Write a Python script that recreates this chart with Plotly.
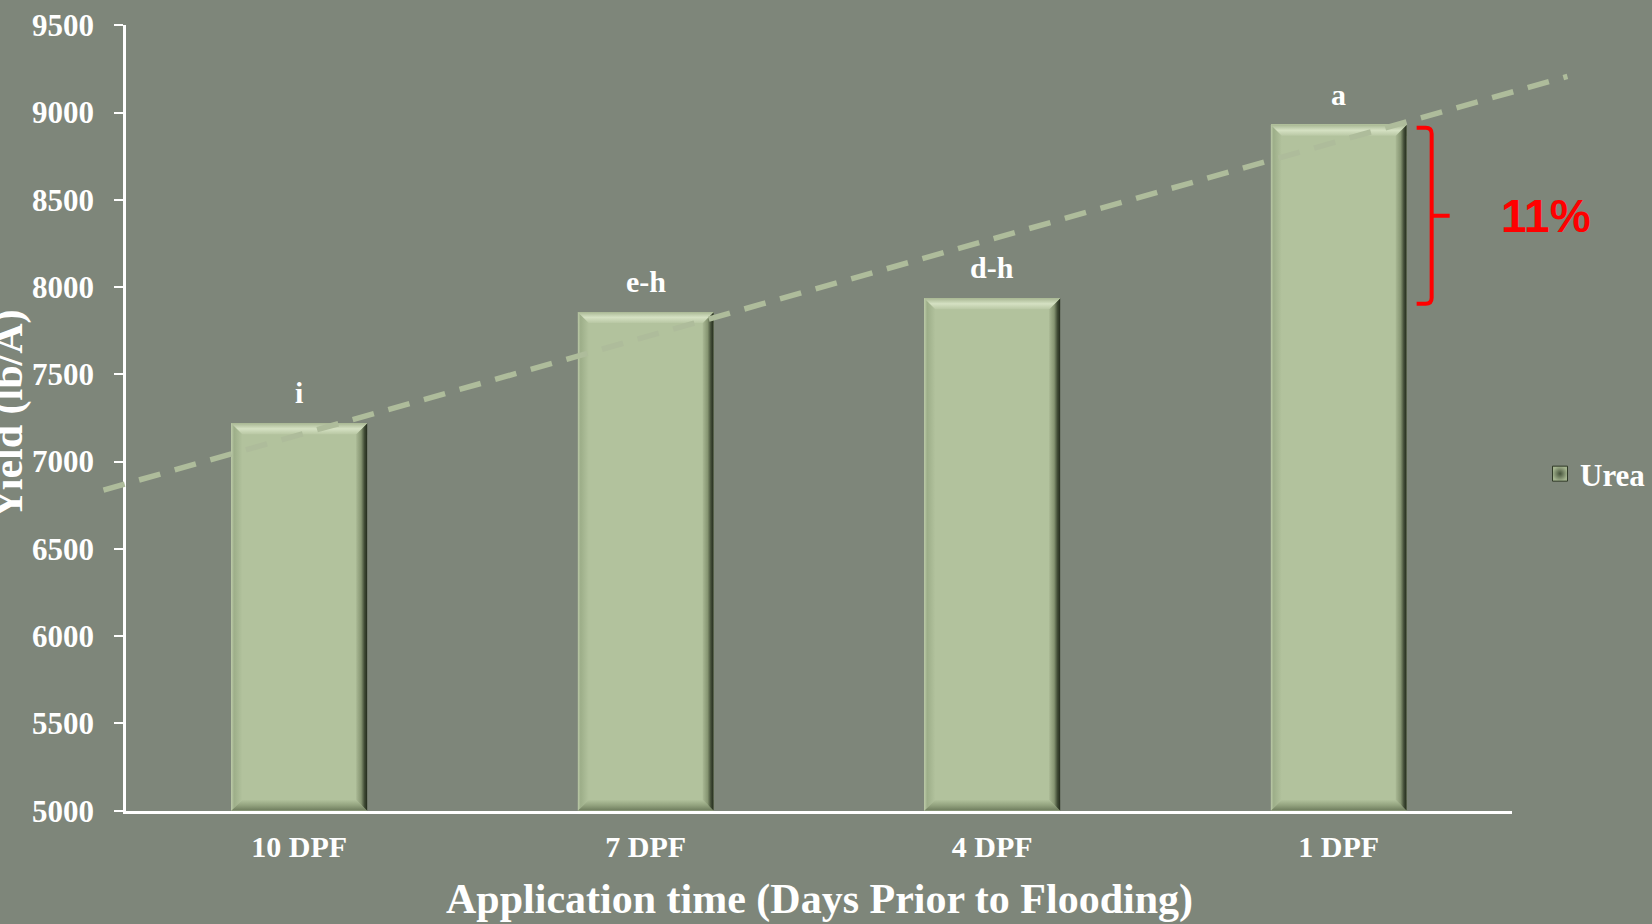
import plotly.graph_objects as go

# ---- data ----
categories = ["10 DPF", "7 DPF", "4 DPF", "1 DPF"]
yield_lb_a = [7220, 7858, 7936, 8930]
sig_letters = ["i", "e-h", "d-h", "a"]
series_name = "Urea"

# linear trend drawn across the bars (ends given in category units / lb per acre)
trend_x = [-0.565, 3.66]
trend_y = [6837, 9207]

# red bracket on the 1 DPF bar: from its top down to this yield
bracket_low = 7905
bracket_text = "11%"

y_ticks = [5000, 5500, 6000, 6500, 7000, 7500, 8000, 8500, 9000, 9500]

# ---- layout constants (pixels) ----
W, H = 1652, 924
PLOT_L, PLOT_R = 126.0, 1512.0
PLOT_T, PLOT_B = 25.3, 810.7
Y_MIN, Y_MAX = 5000, 9500
X_MIN, X_MAX = -0.5, 3.5
BAR_W = 0.392
BEVEL = 11.0

BG = "#7e867a"
BAR_FILL = "#b2c29d"
WHITE = "#ffffff"
SERIF = "Liberation Serif"

px_per_x = (PLOT_R - PLOT_L) / (X_MAX - X_MIN)
px_per_y = (PLOT_B - PLOT_T) / (Y_MAX - Y_MIN)
bx = BEVEL / px_per_x
by = BEVEL / px_per_y

xs = list(range(len(categories)))

fig = go.Figure()

# main bars
fig.add_trace(go.Bar(
    x=xs, y=yield_lb_a, width=BAR_W, name=series_name, legendgroup="urea",
    marker=dict(color=BAR_FILL, line=dict(width=0)),
    showlegend=False, hoverinfo="skip",
))

# legend entry for the series, drawn as a bevelled-looking square
fig.add_trace(go.Scatter(
    x=[None], y=[None], mode="markers", name=series_name, legendgroup="urea",
    marker=dict(symbol="square", size=15, color="#a3b38e",
                gradient=dict(type="radial", color="#46533b"),
                line=dict(color="#2f3927", width=1)),
    showlegend=True, hoverinfo="skip",
))


def face(px, py, gtype, start, stop, scale):
    fig.add_trace(go.Scatter(
        x=px + [px[0]], y=py + [py[0]], mode="lines", fill="toself",
        line=dict(width=0, color="rgba(0,0,0,0)"),
        fillgradient=dict(type=gtype, start=start, stop=stop, colorscale=scale),
        showlegend=False, hoverinfo="skip",
    ))


# bevelled faces on each bar
for xi, v in zip(xs, yield_lb_a):
    x0, x1 = xi - BAR_W / 2, xi + BAR_W / 2
    top, bot = v, Y_MIN
    # left face
    face([x0, x0, x0 + bx, x0 + bx], [bot, top, top - by, bot + by],
         "horizontal", x0, x0 + bx,
         [[0, "#bccaa8"], [0.25, "#9dae89"], [1, BAR_FILL]])
    # bottom face
    face([x0, x1, x1 - bx, x0 + bx], [bot, bot, bot + by, bot + by],
         "vertical", bot, bot + by,
         [[0, "#6e7c5d"], [0.5, "#93a37f"], [1, BAR_FILL]])
    # right face
    face([x1, x1, x1 - bx, x1 - bx], [top, bot, bot + by, top - by],
         "horizontal", x1 - bx, x1,
         [[0, "#a9b894"], [0.45, "#869572"], [0.75, "#414c36"], [1, "#232b1c"]])
    # top face
    face([x0, x1, x1 - bx, x0 + bx], [top, top, top - by, top - by],
         "vertical", top - by, top,
         [[0, "#b9c8a4"], [0.5, "#d5e1c3"], [1, "#a8b793"]])

# trend line on an overlay of the same scale but spanning the whole page
fig.add_trace(go.Scatter(
    x=trend_x, y=trend_y, mode="lines", xaxis="x2", yaxis="y2",
    line=dict(color="#aebc9b", width=5.5, dash="22px,15px"),
    showlegend=False, hoverinfo="skip",
))

# significance letters above bars
for xi, v, t in zip(xs, yield_lb_a, sig_letters):
    fig.add_annotation(
        x=xi, y=v, xref="x", yref="y", text=t, showarrow=False,
        yanchor="bottom", yshift=12,
        font=dict(family=SERIF, size=30, color=WHITE, weight=700),
    )

# red bracket beside the 1 DPF bar
edge = xs[-1] + BAR_W / 2
xh = edge + 10 / px_per_x
xv = edge + 25 / px_per_x
xt = edge + 43 / px_per_x
top_b = yield_lb_a[-1] - 3 / px_per_y
mid_b = (top_b + bracket_low) / 2
rx = 6 / px_per_x
ry = 6 / px_per_y
bracket_path = (
    f"M {xh},{top_b} L {xv - rx},{top_b} Q {xv},{top_b} {xv},{top_b - ry} "
    f"L {xv},{bracket_low + ry} Q {xv},{bracket_low} {xv - rx},{bracket_low} "
    f"L {xh},{bracket_low} M {xv},{mid_b} L {xt},{mid_b}"
)
fig.add_shape(type="path", path=bracket_path, xref="x", yref="y",
              line=dict(color="#ff0000", width=4), layer="above")
fig.add_annotation(
    x=1546 / W, y=mid_b, xref="paper", yref="y", text=bracket_text,
    showarrow=False, xanchor="center", yanchor="middle",
    font=dict(family="Liberation Sans", size=46, color="#ff0000", weight=700),
)

# axis titles
fig.add_annotation(
    x=819 / W, y=1 - 899 / H, xref="paper", yref="paper",
    text="Application time (Days Prior to Flooding)", showarrow=False,
    xanchor="center", yanchor="middle",
    font=dict(family=SERIF, size=42, color=WHITE, weight=700),
)
fig.add_annotation(
    x=8 / W, y=1 - 414 / H, xref="paper", yref="paper",
    text="Yield (lb/A)", textangle=-90, showarrow=False,
    xanchor="center", yanchor="middle",
    font=dict(family=SERIF, size=42, color=WHITE, weight=700),
)

x_dom = [PLOT_L / W, PLOT_R / W]
y_dom = [1 - PLOT_B / H, 1 - PLOT_T / H]

fig.update_layout(
    width=W, height=H,
    margin=dict(l=0, r=0, t=0, b=0, autoexpand=False),
    paper_bgcolor=BG, plot_bgcolor="rgba(0,0,0,0)",
    bargap=0,
    xaxis=dict(
        domain=x_dom, range=[X_MIN, X_MAX], tickvals=xs, ticktext=categories,
        showline=True, linecolor=WHITE, linewidth=2.5, ticks="",
        showgrid=False, zeroline=False, ticklabelstandoff=8,
        tickfont=dict(family=SERIF, size=30, color=WHITE, weight=700),
    ),
    yaxis=dict(
        domain=y_dom, range=[Y_MIN, Y_MAX], tickvals=y_ticks,
        showline=True, linecolor=WHITE, linewidth=2.5,
        ticks="outside", ticklen=9, tickwidth=2, tickcolor=WHITE,
        showgrid=False, zeroline=False, ticklabelstandoff=14,
        tickfont=dict(family=SERIF, size=31, color=WHITE, weight=700),
    ),
    xaxis2=dict(
        domain=[0, 1], visible=False, anchor="y2",
        range=[X_MIN - PLOT_L / px_per_x, X_MAX + (W - PLOT_R) / px_per_x],
    ),
    yaxis2=dict(
        domain=[0, 1], visible=False, anchor="x2",
        range=[Y_MIN - (H - PLOT_B) / px_per_y, Y_MAX + PLOT_T / px_per_y],
    ),
    legend=dict(
        x=1540 / W, y=1 - 474 / H, xanchor="left", yanchor="middle",
        bgcolor="rgba(0,0,0,0)", itemwidth=30,
        font=dict(family=SERIF, size=31, color=WHITE, weight=700),
    ),
    showlegend=True,
)

fig.write_html("out.html")
